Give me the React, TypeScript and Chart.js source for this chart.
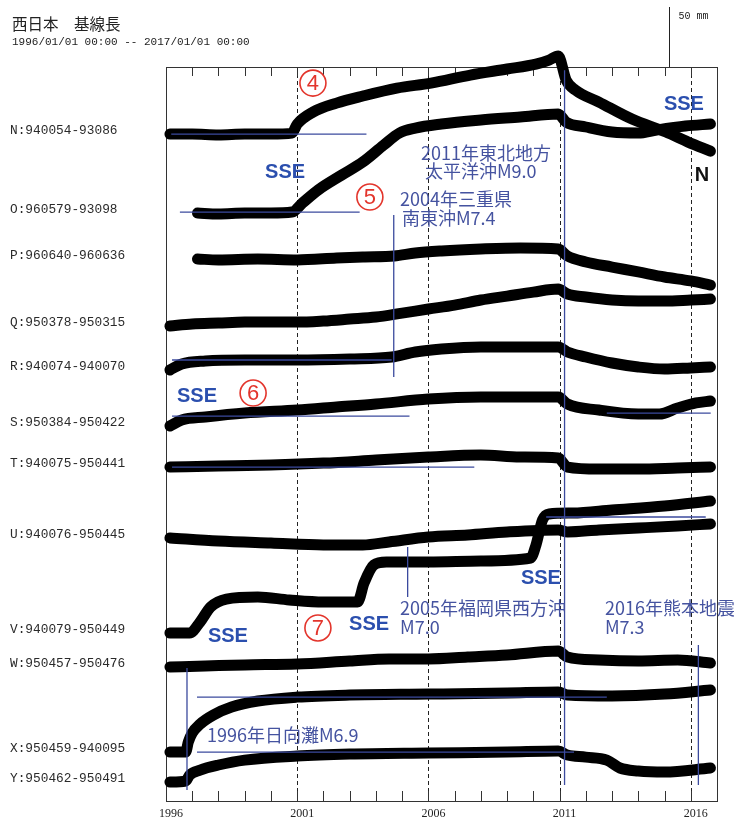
import React, { useEffect, useRef } from "react";
import { Chart, registerables } from "chart.js";

Chart.register(...registerables);

// ---- Baseline pairs (top to bottom) ----
const PAIR_NAMES = [
  "N:940054-93086",
  "O:960579-93098",
  "P:960640-960636",
  "Q:950378-950315",
  "R:940074-940070",
  "S:950384-950422",
  "T:940075-950441",
  "U:940076-950445",
  "V:940079-950449",
  "W:950457-950476",
  "X:950459-940095",
  "Y:950462-950491",
];

// ---- Baseline length change (mm) at decimal-year epochs ----
const N_YEARS = [1996.15, 1997, 1998, 1999, 2000, 2000.8, 2001.0, 2001.6, 2002.5, 2003.5, 2004.8, 2006.1, 2007.6, 2009, 2010.1, 2010.6, 2010.95, 2011.25, 2011.6, 2012.5, 2013.76, 2015.05, 2015.9, 2016.75];
const N_MM = [0, 0, -0.8, 0, 0, 0.8, 8.3, 18.3, 25.8, 31.7, 38.3, 42.5, 49.2, 54.2, 58.3, 61.7, 65, 45, 36.7, 26.7, 12.5, 1.7, -6.7, -14.2];

const O_YEARS = [1997.2, 1998, 1999, 2000, 2000.8, 2001.2, 2001.8, 2002.7, 2003.5, 2004.3, 2004.9, 2005.5, 2006.5, 2008, 2009.5, 2010.95, 2011.25, 2012, 2013, 2014, 2014.7, 2015.8, 2016.75];
const O_MM = [0, -0.8, 0, 0, 0.8, 8.3, 19.2, 31.7, 42.5, 56.7, 66.7, 70.8, 74.2, 77.5, 80, 82.5, 75.8, 71.7, 67.5, 66.7, 69.2, 72.5, 74.2];

const P_YEARS = [1997.2, 1998, 1999.5, 2001, 2002.5, 2003.5, 2004.7, 2005.5, 2006.5, 2008, 2009.5, 2010.95, 2011.3, 2012, 2013, 2014, 2015, 2016, 2016.75];
const P_MM = [0, -0.8, 0, -0.8, 0.8, 1.7, 2.5, 5, 6.7, 8.3, 9.2, 8.3, 2.5, -2.5, -6.7, -10.8, -15, -18.3, -21.7];

const Q_YEARS = [1996.15, 1997, 1998, 1999, 2000, 2001, 2002, 2003, 2004, 2005, 2006, 2007, 2008, 2009, 2010, 2010.95, 2011.3, 2012, 2013, 2014, 2015, 2016, 2016.75];
const Q_MM = [0, 1.7, 2.5, 3.3, 3.3, 3.3, 4.2, 5.8, 7.5, 10.8, 14.2, 17.5, 21.7, 25, 28.3, 30.8, 26.7, 24.2, 21.7, 20.8, 20.8, 21.7, 22.5];

const R_YEARS = [1996.15, 1996.6, 1997.5, 1999, 2001, 2003, 2004.6, 2005.5, 2006.5, 2008, 2009.5, 2010.95, 2011.3, 2012, 2013, 2014, 2015, 2016, 2016.75];
const R_MM = [0, 5, 7.5, 8.3, 8.3, 9.2, 10.8, 15, 17.5, 19.2, 19.2, 19.2, 15, 10.8, 5.8, 2.5, 0.8, 1.7, 2.5];

const S_YEARS = [1996.15, 1996.6, 1997.5, 1999, 2001, 2002.5, 2004, 2006, 2008, 2010.95, 2011.3, 2012.5, 2014, 2014.8, 2015.5, 2016.2, 2016.75];
const S_MM = [0, 5, 7.5, 10.8, 13.3, 15.8, 18.3, 22.5, 24.2, 24.2, 18.3, 13.3, 10, 10, 15, 19.2, 20.8];

const T_YEARS = [1996.15, 1998, 2000, 2002, 2004, 2006, 2008, 2009.5, 2010.95, 2011.3, 2012.5, 2014, 2015.5, 2016.75];
const T_MM = [0, 0.8, 1.7, 3.3, 5.8, 8.3, 10, 8.3, 7.5, 0, -1.7, -1.7, -0.8, 0];

const U_YEARS = [1996.15, 1998, 2000, 2002, 2003.5, 2004.5, 2006, 2007.5, 2009, 2010.95, 2011.3, 2012.5, 2014, 2015.5, 2016.75];
const U_MM = [0, -2.5, -4.2, -5.8, -5.8, -3.3, 0.8, 2.5, 5, 6.7, 5, 6.7, 8.3, 10, 11.7];

const V_YEARS = [1996.15, 1996.9, 1997.3, 1997.7, 1998.3, 1999.5, 2000.7, 2002, 2003.3, 2003.55, 2003.92, 2004.4, 2006, 2008, 2009.9, 2010.1, 2010.35, 2010.6, 2011.5, 2013, 2015, 2016.75];
const V_MM = [0, 0, 9.2, 21.7, 28.3, 30, 27.5, 25.8, 25.8, 41.7, 56.7, 59.2, 59.2, 60, 62.5, 73.3, 94.2, 99.2, 100, 102.5, 105.8, 110];

const W_YEARS = [1996.15, 1997.5, 1999, 2001, 2003, 2004.5, 2006, 2007.5, 2009, 2010.95, 2011.3, 2012.5, 2014, 2015.5, 2016.75];
const W_MM = [0, 0.8, 1.7, 2.5, 5, 6.7, 6.7, 8.3, 10, 13.3, 8.3, 5.8, 5, 5.8, 3.3];

const X_YEARS = [1996.15, 1996.75, 1996.85, 1997.0, 1997.3, 1997.8, 1998.5, 1999.5, 2001, 2003, 2006, 2009, 2010.95, 2011.3, 2013, 2015, 2016.75];
const X_MM = [0, 0, 8.3, 15.8, 23.3, 30.8, 37.5, 42.5, 45.8, 47.5, 48.3, 49.2, 50, 47.5, 46.7, 48.3, 51.7];

const Y_YEARS = [1996.15, 1996.75, 1996.9, 1997.3, 1998, 1999, 2001, 2003, 2006, 2009, 2010.95, 2011.3, 2012, 2012.8, 2013.3, 2014, 2015, 2016.75];
const Y_MM = [0, 0.8, 5.8, 10, 14.2, 18.3, 21.7, 23.3, 24.2, 25, 25.8, 22.5, 20.8, 18.3, 11.7, 9.2, 8.3, 11.7];

const SERIES_YEARS = [N_YEARS, O_YEARS, P_YEARS, Q_YEARS, R_YEARS, S_YEARS, T_YEARS, U_YEARS, V_YEARS, W_YEARS, X_YEARS, Y_YEARS];
const SERIES_MM = [N_MM, O_MM, P_MM, Q_MM, R_MM, S_MM, T_MM, U_MM, V_MM, W_MM, X_MM, Y_MM];

// Vertical stacking of each trace on the shared mm axis
const STACK_OFFSET_MM = [555.8, 490, 451.7, 395.8, 359.2, 312.5, 278.3, 219.2, 140, 111.7, 40.8, 15.8];

// Reference (trend) lines: [pair index, from year, to year, level mm]
const REF_LINES: [number, number, number, number][] = [
  [0, 1996.2, 2003.64, 0],
  [1, 1996.53, 2003.38, 0.8],
  [4, 1996.23, 2004.6, 8.3],
  [5, 1996.23, 2005.28, 8.3],
  [5, 2012.8, 2016.76, 10.8],
  [6, 1996.23, 2007.75, 0],
  [8, 2010.49, 2016.57, 96.7],
  [10, 1997.18, 2012.8, 45.8],
  [11, 1997.18, 2011.55, 25],
];

// Earthquake epochs: [year, top mm, bottom mm]
const QUAKE_LINES: [number, number, number][] = [
  [2004.68, 488.3, 353.3],
  [2005.21, 211.7, 170],
  [2011.19, 609, 13.3],
  [1996.8, 110.8, 9.2],
  [2016.29, 130, 13.3],
];

const X_MIN = 1996;
const X_MAX = 2017;
const Y_SPAN_MM = 611.7;
const YEAR_LABELS = [1996, 2001, 2006, 2011, 2016];
const GUIDE_YEARS = [2001, 2006, 2011, 2016];

// Text notes placed at [year, mm]
const QUAKE_NOTES: [string, number, number][] = [
  ["2011年東北地方", 2005.72, 540],
  ["太平洋沖M9.0", 2005.87, 525],
  ["2004年三重県", 2004.92, 501.7],
  ["南東沖M7.4", 2004.99, 485.8],
  ["2005年福岡県西方沖", 2004.92, 160.8],
  ["M7.0", 2004.92, 145],
  ["2016年熊本地震", 2012.73, 160.8],
  ["M7.3", 2012.73, 145],
  ["1996年日向灘M6.9", 1997.56, 55],
];
const SSE_MARKS: [number, number][] = [
  [2000.54, 524.2],
  [2015.74, 580.8],
  [1997.18, 336.7],
  [2010.29, 185.8],
  [1998.36, 136.7],
  [2003.74, 146.7],
];
const CIRCLED: [string, number, number][] = [
  ["4", 2001.6, 598.3],
  ["5", 2003.77, 503.3],
  ["6", 1999.32, 340],
  ["7", 2001.79, 144.2],
];

const BLUE = "#3b4a9e";
const NOTE_BLUE = "#4553a0";
const SSE_BLUE = "#2b4fae";
const RED = "#e3352c";

const overlay = {
  id: "overlay",
  beforeDatasetsDraw(chart: any) {
    const { ctx, chartArea: a, scales } = chart;
    const x = scales.x;
    ctx.save();
    ctx.strokeStyle = "#222";
    ctx.lineWidth = 1;
    ctx.setLineDash([4, 3]);
    for (const yr of GUIDE_YEARS) {
      const px = Math.round(x.getPixelForValue(yr)) + 0.5;
      ctx.beginPath();
      ctx.moveTo(px, a.top);
      ctx.lineTo(px, a.bottom);
      ctx.stroke();
    }
    ctx.restore();

    // frame and yearly ticks sit under the traces
    ctx.save();
    ctx.strokeStyle = "#333";
    ctx.lineWidth = 1;
    ctx.strokeRect(Math.round(a.left) + 0.5, Math.round(a.top) + 0.5, Math.round(a.right - a.left), Math.round(a.bottom - a.top));
    ctx.beginPath();
    for (let yr = X_MIN + 1; yr < X_MAX; yr++) {
      const px = Math.round(x.getPixelForValue(yr)) + 0.5;
      ctx.moveTo(px, a.top);
      ctx.lineTo(px, a.top + 9);
      ctx.moveTo(px, a.bottom);
      ctx.lineTo(px, a.bottom - 10);
    }
    ctx.stroke();
    ctx.restore();
  },
  afterDraw(chart: any) {
    const { ctx, chartArea: a, scales } = chart;
    const x = scales.x;
    const y = scales.y;
    ctx.save();

    // year labels
    ctx.fillStyle = "#222";
    ctx.font = "12px 'Liberation Serif'";
    ctx.textAlign = "center";
    ctx.textBaseline = "middle";
    for (const yr of YEAR_LABELS) {
      ctx.fillText(String(yr), x.getPixelForValue(yr) + 5, a.bottom + 13);
    }

    // pair names
    ctx.textAlign = "left";
    ctx.font = "12.8px 'Liberation Mono'";
    ctx.fillStyle = "#2a2a2a";
    PAIR_NAMES.forEach((name, i) => {
      ctx.fillText(name, 10, y.getPixelForValue(STACK_OFFSET_MM[i]) - 3);
    });

    // title
    ctx.fillStyle = "#222";
    ctx.font = "15.5px 'Noto Sans CJK JP'";
    ctx.fillText("西日本\u3000基線長", 12, 24);
    ctx.font = "11px 'Liberation Mono'";
    ctx.fillText("1996/01/01 00:00 -- 2017/01/01 00:00", 12, 42);

    // 50 mm scale bar
    const barX = Math.round(x.getPixelForValue(2015.17)) + 0.5;
    ctx.strokeStyle = "#222";
    ctx.lineWidth = 1;
    ctx.beginPath();
    ctx.moveTo(barX, y.getPixelForValue(Y_SPAN_MM));
    ctx.lineTo(barX, y.getPixelForValue(Y_SPAN_MM + 50));
    ctx.stroke();
    ctx.font = "10px 'Liberation Mono'";
    ctx.fillText("50 mm", barX + 9, 16);

    // earthquake notes
    ctx.fillStyle = NOTE_BLUE;
    ctx.font = "18px 'Noto Sans CJK JP'";
    for (const [t, yr, mm] of QUAKE_NOTES) {
      ctx.fillText(t, x.getPixelForValue(yr), y.getPixelForValue(mm));
    }

    // SSE marks
    ctx.textAlign = "center";
    ctx.fillStyle = SSE_BLUE;
    ctx.font = "bold 20px 'Liberation Sans'";
    for (const [yr, mm] of SSE_MARKS) {
      ctx.fillText("SSE", x.getPixelForValue(yr), y.getPixelForValue(mm));
    }
    ctx.fillStyle = "#111";
    ctx.fillText("N", x.getPixelForValue(2016.43), y.getPixelForValue(521.7));

    // circled numbers
    ctx.strokeStyle = RED;
    ctx.fillStyle = RED;
    ctx.lineWidth = 1.6;
    ctx.font = "22px 'Liberation Sans'";
    for (const [d, yr, mm] of CIRCLED) {
      const cx = x.getPixelForValue(yr);
      const cy = y.getPixelForValue(mm);
      ctx.beginPath();
      ctx.arc(cx, cy, 13, 0, Math.PI * 2);
      ctx.stroke();
      ctx.fillText(d, cx, cy + 1);
    }

    ctx.restore();
  },
};

export default function App() {
  const ref = useRef<HTMLCanvasElement | null>(null);

  useEffect(() => {
    const canvas = ref.current;
    if (!canvas) return;

    const traces = SERIES_MM.map((vals, i) => ({
      type: "line" as const,
      data: vals.map((v, k) => ({ x: SERIES_YEARS[i][k], y: STACK_OFFSET_MM[i] + v })),
      borderColor: "#000",
      borderWidth: 11,
      borderCapStyle: "round" as const,
      borderJoinStyle: "round" as const,
      cubicInterpolationMode: "monotone" as const,
      pointRadius: 0,
      clip: false as any,
      order: 2,
    }));

    const refs = REF_LINES.map(([i, from, to, lvl]) => ({
      type: "line" as const,
      data: [
        { x: from, y: STACK_OFFSET_MM[i] + lvl },
        { x: to, y: STACK_OFFSET_MM[i] + lvl },
      ],
      borderColor: BLUE,
      borderWidth: 1.3,
      pointRadius: 0,
      order: 1,
    }));

    const quakes = QUAKE_LINES.map(([yr, top, bottom]) => ({
      type: "line" as const,
      data: [
        { x: yr, y: top },
        { x: yr, y: bottom },
      ],
      borderColor: BLUE,
      borderWidth: 1.3,
      pointRadius: 0,
      order: 0,
    }));

    const chart = new Chart(canvas, {
      type: "line",
      data: { datasets: [...quakes, ...refs, ...traces] as any },
      options: {
        animation: false,
        responsive: false,
        devicePixelRatio: 1,
        parsing: false as any,
        layout: { padding: { left: 166, right: 17, top: 67, bottom: 24 } },
        plugins: { legend: { display: false }, tooltip: { enabled: false } },
        events: [],
        scales: {
          x: { type: "linear", min: X_MIN, max: X_MAX, display: false },
          y: { type: "linear", min: 0, max: Y_SPAN_MM, display: false },
        },
      },
      plugins: [overlay],
    });
    return () => chart.destroy();
  }, []);

  return (
    <div style={{ position: "fixed", left: 0, top: 0, width: 734, height: 825, background: "#fff" }}>
      <canvas ref={ref} width={734} height={825} style={{ width: 734, height: 825, display: "block" }} />
    </div>
  );
}
